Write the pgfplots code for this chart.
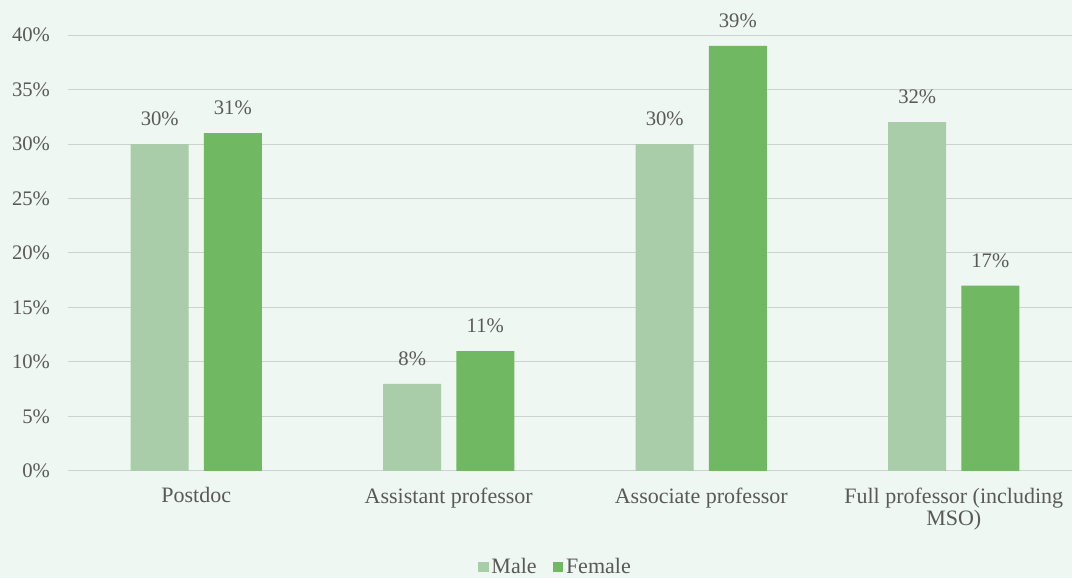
\documentclass[border=0pt]{standalone}
\usepackage{pgfplots}
\pgfplotsset{compat=1.18}
\usepackage{fontspec}
\setmainfont{Liberation Serif}
\definecolor{bg}{RGB}{238,247,241}
\definecolor{male}{RGB}{168,205,168}
\definecolor{female}{RGB}{112,185,98}
\definecolor{txt}{RGB}{89,89,89}
\definecolor{gridc}{RGB}{204,210,206}
\begin{document}
\begin{tikzpicture}[x=1pt,y=1pt]
\fill[bg] (0,0) rectangle (804,433.5);
\useasboundingbox (0,0) rectangle (804,433.5);
\begin{axis}[
  at={(51pt,80.25pt)}, anchor=south west,
  scale only axis, width=759pt, height=327pt,
  xmin=-0.508, xmax=3.5, ymin=0, ymax=40,
  ybar, bar width=43.5pt,
  axis x line*=bottom, axis y line*=left,
  x axis line style={draw=gridc, line width=0.75pt, -},
  y axis line style={draw=none},
  ymajorgrids, grid style={draw=gridc, line width=0.75pt},
  major tick length=0pt,
  xtick={0,1,2,3},
  xticklabels={Postdoc, Assistant professor, Associate professor, {Full professor (including\\MSO)}},
  xticklabel style={align=center, font=\fontsize{16.5}{16.5}\selectfont, text=txt, yshift=-9pt},
  ytick={0,5,...,40},
  yticklabel={\pgfmathprintnumber{\tick}\%},
  /pgf/number format/assume math mode=true,
  yticklabel style={font=\fontsize{15.5}{18}\selectfont, text=txt, xshift=-10pt},
  nodes near coords={\pgfmathprintnumber{\pgfplotspointmeta}\%},
  every node near coord/.append style={font=\fontsize{15.5}{18}\selectfont, text=txt, yshift=10pt},
  legend style={at={(0.482,-0.22)}, anchor=center, draw=none, fill=none,
    legend columns=-1, font=\fontsize{16.5}{18}\selectfont, text=txt,
    /tikz/every even column/.append style={column sep=10pt}},
  legend image code/.code={\fill[#1] (0pt,-4pt) rectangle (8pt,4pt);},
]
\addplot[fill=male, draw=none, bar shift=-27.4pt] coordinates {(0,30) (1,8) (2,30) (3,32)};
\addplot[fill=female, draw=none, bar shift=27.4pt] coordinates {(0,31) (1,11) (2,39) (3,17)};
\legend{Male, Female}
\end{axis}
\end{tikzpicture}
\end{document}
